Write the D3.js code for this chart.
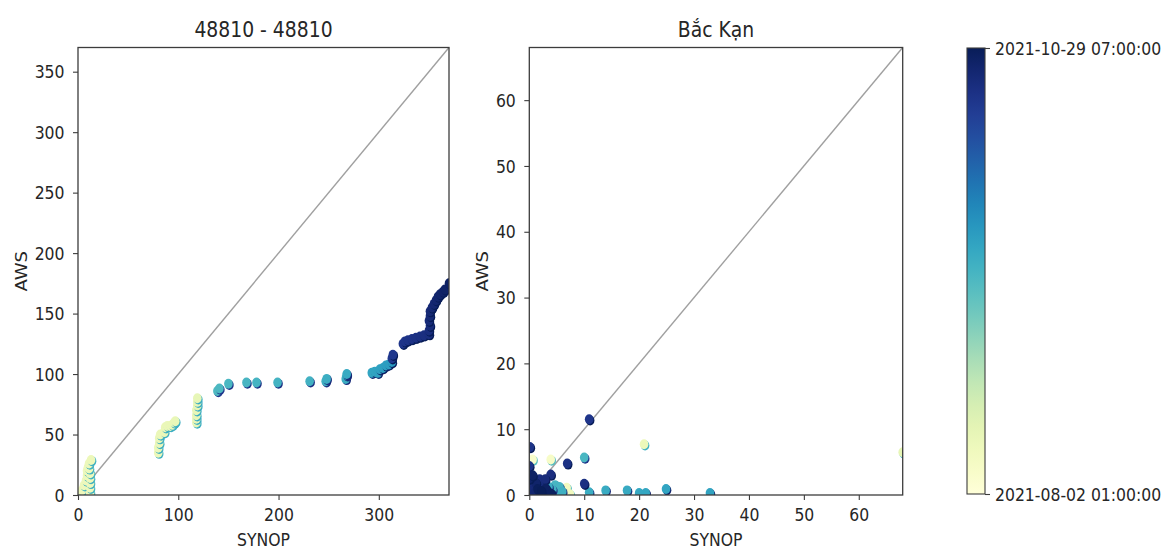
<!DOCTYPE html>
<html>
<head>
<meta charset="utf-8">
<script src="https://cdn.jsdelivr.net/npm/d3@7"></script>
<style>
  html, body { margin: 0; padding: 0; background: #fff; }
  svg { display: block; font-family: "DejaVu Sans", sans-serif; }
</style>
</head>
<body>
<svg id="chart" width="1170" height="550"></svg>
<script>
// ---- Station 48810: accumulated rainfall, SYNOP vs AWS ----
const s1Synop = [2,4,6,8,9,9,10,11,13,12,12,12,12,12,11,
  80,80,81,81,82,86,87,89,92,94,96,97,
  118,118,118,118,119,119,119,
  139,141,150,168,178,199,231,247,248,267,268,268,
  293,296,299,301,304,307,310,313,
  313,314,324,326,329,333,337,341,345,350,350,351,350,351,351,353,355,357,359,361,364,366,370];
const s1Aws = [1,4,8,12,16,20,23,26,29,2,6,10,14,18,22,
  35,39,43,47,50,52,56,57,57,58,60,61,
  60,63,66,70,74,77,80,
  86,88,92,93,93,93,94,94,96,96,99,100,
  101,102,101,104,105,107,108,110,
  113,116,125,127,128,129,130,131,132,133,136,140,144,148,152,155,158,161,164,166,168,170,175];
// observation time, days after 2021-08-02 01:00
const s1Day = [9.0,9.1,9.2,9.3,9.4,9.5,9.6,9.7,9.8,9.1,9.2,9.3,9.4,9.5,9.6,
  10.0,10.1,10.2,10.3,10.4,10.5,10.6,10.7,10.8,10.9,11.0,11.1,
  11.3,11.4,11.5,11.6,11.7,11.8,11.9,
  42.0,42.5,43.0,43.5,44.0,44.5,45.0,45.5,46.0,46.5,47.0,47.5,
  49.0,49.4,49.8,50.2,50.6,51.0,51.4,51.8,
  77.0,77.4,78.0,78.4,78.8,79.2,79.6,80.0,80.4,80.8,81.2,81.6,82.0,82.4,82.8,83.2,83.6,84.0,84.4,84.8,85.2,85.6,86.2];

// ---- Bắc Kạn: hourly rainfall, SYNOP vs AWS ----
const s2Synop = [0.2,0.6,3.9,0.3,6.8,7.4,20.9,68,
  10,4.7,5.5,5,4.2,6,3.5,10.9,13.9,17.8,20,21.2,24.9,32.9,
  10.9,0.1,0,6.9,10,3.9,1.9,2.9,2.0,0.3,0.3,3.4,1.0,2.5,1.2,0,0.6,3.0,4.0,1.5,2.2];
const s2Aws = [0.8,5.4,5.4,3.2,1.1,0.1,7.7,6.5,
  5.7,1.5,1.2,0.3,0.8,0.5,1.2,0.4,0.7,0.7,0.3,0.3,0.9,0.3,
  11.5,7.3,4.4,4.8,1.7,3.1,2.4,2.4,1.3,1.6,0.6,0.5,0.3,0.2,1.8,2.5,3.0,1.0,0.2,0.9,0.6];
const s2Day = [3,4,5,6,7,8,10,12,
  43,43.5,44,44.5,45,45.5,46,46.5,47,47.5,48,48.5,49,49.5,
  78,78.5,79,79.5,80,80.5,81,81.5,82,82.5,83,83.5,84,84.5,85,85.5,86,86.5,87,87.5,88];

const panelTitles = ["48810 - 48810", "Bắc Kạn"];
const xTicks1 = [0, 100, 200, 300];
const yTicks1 = [0, 50, 100, 150, 200, 250, 300, 350];
const ticks2 = [0, 10, 20, 30, 40, 50, 60];
const timeSpan = [0, 88.25];
const colorbarLabels = ["2021-08-02 01:00:00", "2021-10-29 07:00:00"];
const xLabel = "SYNOP", yLabel = "AWS";

// ---- drawing ----
const SX = 0.87;            // horizontal squeeze of glyphs and markers
const TXT = "#262626", SPINE = "#3c3c3c";
const svg = d3.select("#chart");
const color = d3.scaleSequential(d3.interpolateYlGnBu).domain(timeSpan);
const shade = d => d3.interpolateYlGnBu(Math.min(1, (d - timeSpan[0]) / (timeSpan[1] - timeSpan[0]) + 0.4));

function panel(id, box, synop, aws, days, xt, yt, title, yLabelX) {
  const lim = Math.max(d3.max(synop), 0);
  const x = d3.scaleLinear().domain([0, lim]).range([box.l, box.r]);
  const y = d3.scaleLinear().domain([0, lim]).range([box.b, box.t]);
  const g = svg.append("g");

  g.append("clipPath").attr("id", id).append("rect")
    .attr("x", box.l).attr("y", box.t).attr("width", box.r - box.l).attr("height", box.b - box.t);

  // 1:1 reference line
  g.append("line")
    .attr("x1", x(0)).attr("y1", y(0)).attr("x2", x(lim)).attr("y2", y(lim))
    .attr("stroke", "#a0a0a0").attr("stroke-width", 1.4);

  const pts = d3.range(synop.length).map(i => ({ s: synop[i], a: aws[i], d: days[i] }))
    .sort((p, q) => p.d - q.d);
  const mk = g.append("g").attr("clip-path", `url(#${id})`)
    .selectAll("g").data(pts).join("g");
  mk.append("ellipse")
    .attr("cx", p => x(p.s) + 1).attr("cy", p => y(p.a) + 1.2)
    .attr("rx", 4.3).attr("ry", 5).attr("fill", p => shade(p.d));
  mk.append("ellipse")
    .attr("cx", p => x(p.s)).attr("cy", p => y(p.a))
    .attr("rx", 4.3).attr("ry", 5).attr("fill", p => color(p.d));

  // axes
  const ax = g.append("g").attr("transform", `translate(0,${box.b})`)
    .call(d3.axisBottom(x).tickValues(xt).tickSize(5).tickSizeOuter(0));
  const ay = g.append("g").attr("transform", `translate(${box.l},0)`)
    .call(d3.axisLeft(y).tickValues(yt).tickSize(5).tickSizeOuter(0));
  [ax, ay].forEach(a => {
    a.select(".domain").remove();
    a.attr("font-size", 18).attr("font-family", "DejaVu Sans");
    a.selectAll("line").attr("stroke", SPINE).attr("stroke-width", 1.1);
    a.selectAll("text").attr("fill", TXT).attr("transform", `scale(${SX},1)`);
  });
  ax.selectAll("text").attr("y", 13).attr("dy", "0.71em");
  ay.selectAll("text").attr("x", -13.5 / SX).attr("dy", "0.34em");

  // frame
  g.append("rect")
    .attr("x", box.l).attr("y", box.t).attr("width", box.r - box.l).attr("height", box.b - box.t)
    .attr("fill", "none").attr("stroke", SPINE).attr("stroke-width", 1.3);

  const cx = (box.l + box.r) / 2;
  g.append("text").text(title)
    .attr("transform", `translate(${cx},37) scale(${SX},1)`)
    .attr("text-anchor", "middle").attr("font-size", 21.6).attr("fill", TXT);
  g.append("text").text(xLabel)
    .attr("transform", `translate(${cx},546) scale(${SX},1)`)
    .attr("text-anchor", "middle").attr("font-size", 18).attr("fill", TXT);
  g.append("text").text(yLabel)
    .attr("transform", `translate(${yLabelX},${(box.t + box.b) / 2}) scale(${SX},1) rotate(-90)`)
    .attr("text-anchor", "middle").attr("font-size", 18).attr("fill", TXT);
}

panel("clip1", { l: 78, r: 449, t: 47.5, b: 495 }, s1Synop, s1Aws, s1Day, xTicks1, yTicks1, panelTitles[0], 27);
panel("clip2", { l: 529.3, r: 902.7, t: 47.5, b: 495 }, s2Synop, s2Aws, s2Day, ticks2, ticks2, panelTitles[1], 488);

// ---- colour bar ----
const cb = { l: 967, r: 985, t: 48, b: 494 };
const defs = svg.append("defs");
const grad = defs.append("linearGradient").attr("id", "cbGrad")
  .attr("x1", 0).attr("y1", 1).attr("x2", 0).attr("y2", 0);
d3.range(0, 1.0001, 0.05).forEach(t =>
  grad.append("stop").attr("offset", t).attr("stop-color", d3.interpolateYlGnBu(t)));
svg.append("rect")
  .attr("x", cb.l).attr("y", cb.t).attr("width", cb.r - cb.l).attr("height", cb.b - cb.t)
  .attr("fill", "url(#cbGrad)").attr("stroke", SPINE).attr("stroke-width", 1.1);
const ct = d3.scaleLinear().domain(timeSpan).range([cb.b, cb.t]);
const cax = svg.append("g").attr("transform", `translate(${cb.r},0)`)
  .call(d3.axisRight(ct).tickValues(timeSpan).tickSize(5).tickSizeOuter(0)
    .tickFormat((d, i) => colorbarLabels[i]));
cax.select(".domain").remove();
cax.attr("font-size", 18).attr("font-family", "DejaVu Sans");
cax.selectAll("line").attr("stroke", SPINE).attr("stroke-width", 1.1);
cax.selectAll("text").attr("fill", TXT).attr("x", 10 / SX).attr("dy", "0.34em")
  .attr("transform", `scale(${SX},1)`);
</script>
</body>
</html>
